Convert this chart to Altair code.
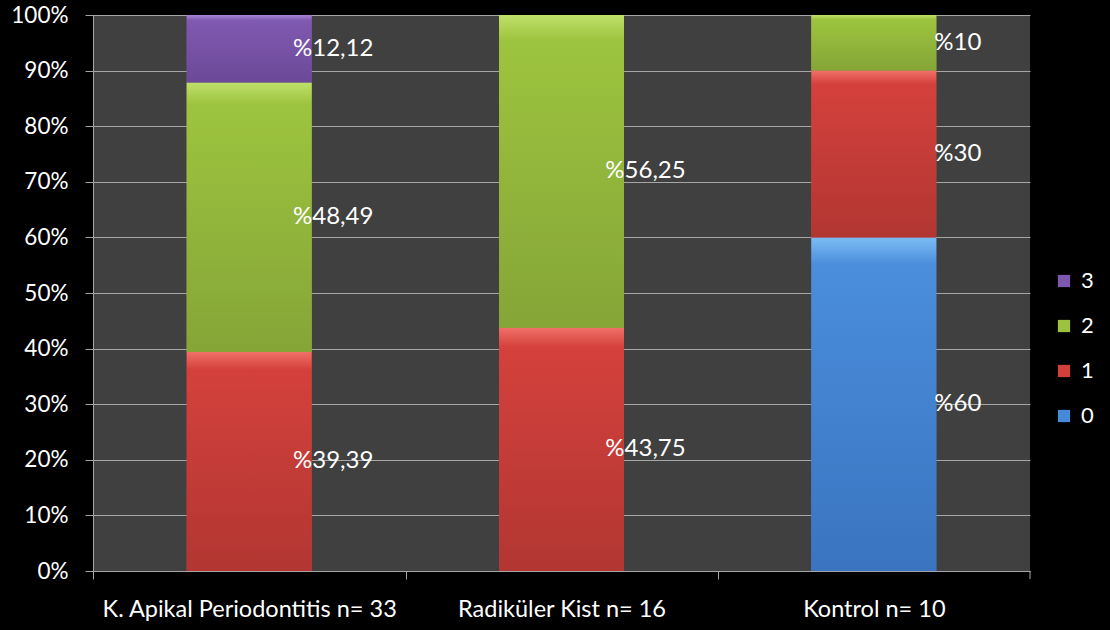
import altair as alt
import pandas as pd

FONT = "Lato"

groups = ["K. Apikal Periodontitis n= 33", "Radiküler Kist n= 16", "Kontrol n= 10"]
scores = ["0", "1", "2", "3"]
apikal = [0, 39.39, 48.49, 12.12]
radikuler = [0, 43.75, 56.25, 0]
kontrol = [60, 30, 10, 0]

legend_order = ["3", "2", "1", "0"]
base_colors = {"0": "#4689d8", "1": "#d1403b", "2": "#9cc240", "3": "#7e58ae"}
grad_stops = {
    "0": ["#7dbdf4", "#4a8edc", "#3a74c0"],
    "1": ["#f07068", "#d4413c", "#b23632"],
    "2": ["#bfe06a", "#9dc43f", "#85a537"],
    "3": ["#a584d4", "#8059b0", "#6c4998"],
}

rows = []
for g, vals in zip(groups, [apikal, radikuler, kontrol]):
    cum = 0.0
    for i, (s, v) in enumerate(zip(scores, vals)):
        if v <= 0:
            continue
        txt = ("%" + (f"{v:.2f}".replace(".", ",") if v != int(v) else str(int(v))))
        rows.append({"grup": g, "skor": s, "ord": i, "v": v,
                     "start": cum, "end": cum + v, "mid": cum + v / 2, "lbl": txt})
        cum += v
df = pd.DataFrame(rows)

W, H = 937, 556
GRID = "#a6a6a6"

xenc = alt.X("grup:N", sort=groups, title=None,
             scale=alt.Scale(paddingInner=0.6, paddingOuter=0.3),
             axis=alt.Axis(tickOffset=-156, labelOffset=156, labelAngle=0, tickSize=8,
                           tickColor=GRID, domainColor=GRID, labelColor="white",
                           labelFontSize=23.5, labelFont=FONT, labelPadding=18,
                           labelLimit=1000, grid=False))
yenc = alt.Y("start:Q", title=None,
             scale=alt.Scale(domain=[0, 100], nice=False),
             axis=alt.Axis(values=list(range(0, 101, 10)), labelExpr="datum.value + '%'",
                           tickSize=8, tickColor=GRID, domainColor=GRID, gridColor=GRID,
                           labelColor="white", labelFontSize=22.5, labelFont=FONT,
                           labelPadding=17))

base = alt.Chart(df).mark_bar().encode(
    x=xenc, y=yenc, y2="end:Q",
    color=alt.Color("skor:N", title=None,
                    scale=alt.Scale(domain=legend_order,
                                    range=[base_colors[s] for s in legend_order]),
                    legend=alt.Legend(orient="none", legendX=960, legendY=255,
                                      symbolType="square", symbolSize=150,
                                      symbolStrokeWidth=0,
                                      labelColor="white", labelFontSize=22,
                                      labelFont=FONT, rowPadding=23, labelOffset=6)),
)

layers = [base]
for s in scores:
    st = grad_stops[s]
    layers.append(
        alt.Chart(df).transform_filter(alt.datum.skor == s).mark_bar(
            fill=alt.Gradient(gradient="linear",
                              stops=[alt.GradientStop(color=st[0], offset=0),
                                     alt.GradientStop(color=st[1], offset=0.08),
                                     alt.GradientStop(color=st[2], offset=1)],
                              x1=0, x2=0, y1=0, y2=1)
        ).encode(x=alt.X("grup:N", sort=groups), y="start:Q", y2="end:Q")
    )

text = alt.Chart(df).mark_text(align="center", baseline="middle", xOffset=84,
                               fontSize=24, font=FONT, color="white").encode(
    x=alt.X("grup:N", sort=groups), y=alt.Y("mid:Q"), text="lbl:N")
layers.append(text)

end_tick = alt.Chart(pd.DataFrame({"a": [0]})).mark_rule(color=GRID).encode(
    x=alt.value(W), y=alt.value(H), y2=alt.value(H + 8))
layers.append(end_tick)

chart = alt.layer(*layers).properties(
    width=W, height=H, background="black",
    autosize=alt.AutoSizeParams(type="none"),
    padding={"left": 93, "top": 15, "right": 80, "bottom": 59},
).configure_view(fill="#404040", strokeWidth=0)

chart.save("out.html", embed_options={"renderer": "svg", "actions": False})
